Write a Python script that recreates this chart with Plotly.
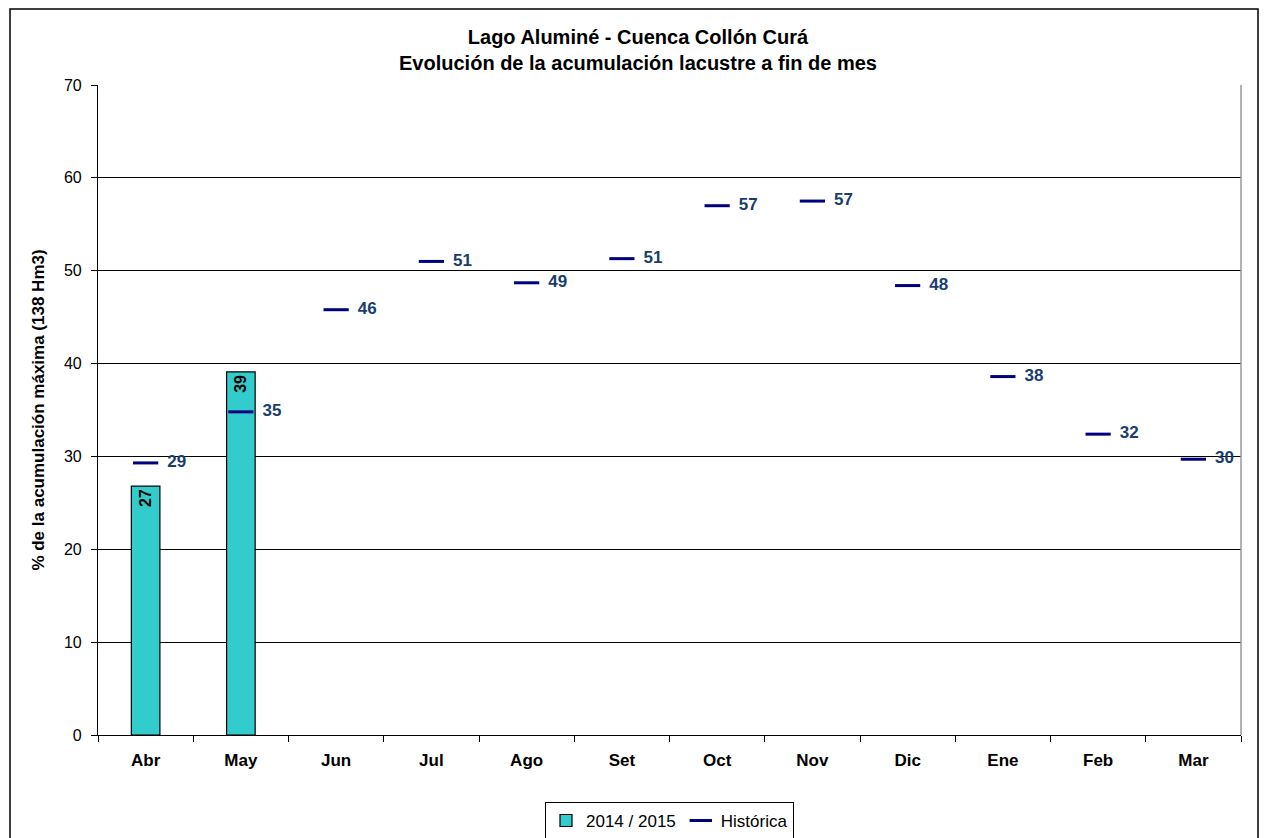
import plotly.graph_objects as go

meses = ["Abr", "May", "Jun", "Jul", "Ago", "Set", "Oct", "Nov", "Dic", "Ene", "Feb", "Mar"]
actual_2014_15 = [26.8, 39.1, None, None, None, None, None, None, None, None, None, None]
actual_labels = ["27", "39", "", "", "", "", "", "", "", "", "", ""]
historica = [29.3, 34.8, 45.8, 51.0, 48.7, 51.3, 57.0, 57.5, 48.4, 38.6, 32.4, 29.7]
historica_labels = ["29", "35", "46", "51", "49", "51", "57", "57", "48", "38", "32", "30"]

FONT = "Arial, Liberation Sans, sans-serif"

fig = go.Figure()
fig.add_trace(go.Bar(
    x=meses, y=actual_2014_15, name="2014 / 2015",
    marker=dict(color="#33CCCC", line=dict(color="black", width=1.2)),
    width=0.30,
    text=actual_labels, textposition="inside", textangle=-90,
    insidetextanchor="end",
    textfont=dict(family=FONT, size=16, color="black", weight="bold"),
))
fig.add_trace(go.Scatter(
    x=meses, y=historica, name="Histórica", mode="markers+text",
    marker=dict(symbol="line-ew", size=18, line=dict(color="#000080", width=3)),
    text=["  " + s for s in historica_labels], textposition="middle right",
    textfont=dict(family=FONT, size=17, color="#1a3d6e", weight="bold"),
    cliponaxis=False,
))

# la página tiene un margen de 8 px, así que la figura se corre 8 px
W, H = 1260, 830
l, r, t, b = 90, 27, 77, 103
pw, ph = W - l - r, H - t - b
# Marco exterior del gráfico
fig.add_shape(type="rect", xref="paper", yref="paper",
              x0=(2 - l) / pw, x1=(1250 - l) / pw,
              y0=(H - b - 850) / ph, y1=(H - b - 1) / ph,
              line=dict(color="black", width=1.5), layer="below")
# borde derecho del área de trazado
fig.add_shape(type="line", xref="paper", yref="paper", x0=1, x1=1, y0=0, y1=1,
              line=dict(color="#999999", width=1.5))

fig.update_layout(
    width=W, height=H,
    margin=dict(l=l, r=r, t=t, b=b, autoexpand=False),
    plot_bgcolor="white", paper_bgcolor="white",
    font=dict(family=FONT, size=16, color="black"),
    title=dict(
        text="Lago Aluminé - Cuenca Collón Curá<br>Evolución de la acumulación lacustre a fin de mes",
        x=0.5, xanchor="center", y=0.957, yanchor="top",
        font=dict(family=FONT, size=20, color="black", weight="bold"),
    ),
    showlegend=True,
    legend=dict(orientation="h", x=0.5, xanchor="center", y=-0.103, yanchor="top",
                bordercolor="black", borderwidth=1, font=dict(size=17),
                itemwidth=30, tracegroupgap=0),
)
fig.update_xaxes(
    range=[-0.5, 11.5], automargin=False,
    showline=True, linecolor="black", linewidth=1.2,
    ticks="outside", tickson="boundaries", ticklen=6, tickcolor="black",
    ticklabelstandoff=9,
    tickfont=dict(family=FONT, size=17, weight="bold"),
    showgrid=False,
)
fig.update_yaxes(
    range=[0, 70], dtick=10, automargin=False,
    showline=True, linecolor="black", linewidth=1.2,
    ticks="outside", ticklen=6, tickcolor="black",
    ticklabelstandoff=6,
    showgrid=True, gridcolor="black", gridwidth=1,
    tickfont=dict(family=FONT, size=16),
    title=dict(text="% de la acumulación máxima (138 Hm3)",
               font=dict(family=FONT, size=17, weight="bold"), standoff=14),
)

fig.write_html("out.html")
